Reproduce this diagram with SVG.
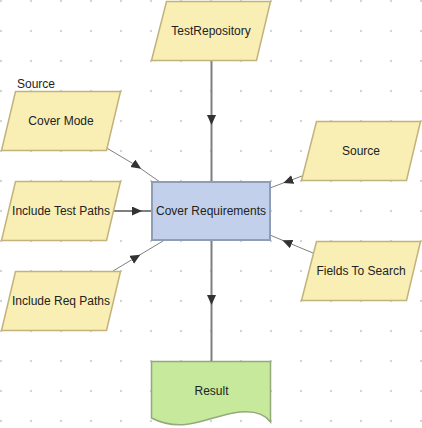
<svg xmlns="http://www.w3.org/2000/svg" width="422" height="428" viewBox="0 0 422 428">
<style>
.io{fill:#f9eeb3;stroke:#c2b27c;stroke-width:1.5}
.proc{fill:#c3d0eb;stroke:#8f9db5;stroke-width:2}
.doc{fill:#c6e99b;stroke:#94a97d;stroke-width:1.5}
.lbl{font-family:"Liberation Sans",Arial,sans-serif;font-size:12px;fill:#222;text-anchor:middle}
.cap{font-family:"Liberation Sans",Arial,sans-serif;font-size:12px;fill:#222}
.main{fill:none;stroke:#7f7f7f;stroke-width:2;marker-mid:url(#arr)}
.thin{fill:none;stroke:#808080;stroke-width:1;marker-mid:url(#arr)}
</style>
<defs>
<pattern id="grid" patternUnits="userSpaceOnUse" x="-14" y="-14" width="30" height="30">
<circle cx="15" cy="15" r="1.2" fill="#d4d4d4"/>
</pattern>
<marker id="arr" markerUnits="userSpaceOnUse" markerWidth="12" markerHeight="10" refX="5" refY="4.5" orient="auto">
<path d="M0,0 L10,4.5 L0,9 Z" fill="#333"/>
</marker>
</defs>
<rect width="422" height="428" fill="#ffffff"/>
<rect width="422" height="428" fill="url(#grid)"/>
<g id="connectors">
<path class="main" d="M211.5,60.5 L211.5,120 L211.5,182"/>
<path class="main" d="M211.5,240 L211.5,300 L211.5,361.5"/>
<path class="main" d="M112,211 L137,211 L152,211"/>
<path class="thin" d="M105,147 L137,166 L160,182"/>
<path class="thin" d="M113,271 L136,257.2 L163,241"/>
<path class="thin" d="M302,176 L288,181.2 L270,188"/>
<path class="thin" d="M313,253 L287,242.2 L270,235"/>
</g>
<g id="testrepository">
<polygon class="io" points="166.5,1.5 270.5,1.5 256.5,60.5 151.5,60.5"/>
<text class="lbl" x="211" y="35">TestRepository</text>
</g>
<g id="covermode">
<text class="cap" x="17" y="88">Source</text>
<polygon class="io" points="15.5,91.5 120.5,91.5 106.5,150.5 1.5,150.5"/>
<text class="lbl" x="61" y="125">Cover Mode</text>
</g>
<g id="includetestpaths">
<polygon class="io" points="15.5,181.5 120.5,181.5 106.5,240.5 1.5,240.5"/>
<text class="lbl" x="61" y="215">Include Test Paths</text>
</g>
<g id="includereqpaths">
<polygon class="io" points="15.5,271.5 120.5,271.5 106.5,330.5 1.5,330.5"/>
<text class="lbl" x="61" y="305">Include Req Paths</text>
</g>
<g id="source">
<polygon class="io" points="316.5,121.5 420.5,121.5 406.5,180.5 301.5,180.5"/>
<text class="lbl" x="361" y="155">Source</text>
</g>
<g id="fieldstosearch">
<polygon class="io" points="316.5,241.5 420.5,241.5 406.5,300.5 301.5,300.5"/>
<text class="lbl" x="361" y="275">Fields To Search</text>
</g>
<g id="coverrequirements">
<rect class="proc" x="152" y="182" width="118" height="58"/>
<text class="lbl" x="211" y="215">Cover Requirements</text>
</g>
<g id="result">
<path class="doc" d="M151.5,361.5 H270.5 V422 Q262,410 240,412 C210,415 185,435 151.5,418 Z"/>
<text class="lbl" x="211.5" y="395">Result</text>
</g>
</svg>
